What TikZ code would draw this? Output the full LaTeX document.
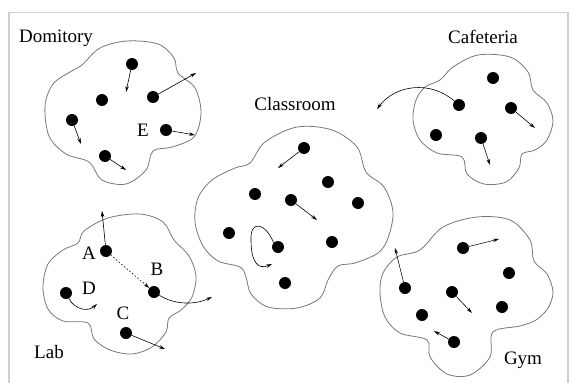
\documentclass[tikz,border=0pt]{standalone}
\usepackage{fontspec}
\setmainfont{Liberation Serif}
\usetikzlibrary{arrows.meta}
\definecolor{FrameGray}{HTML}{CFCFCF}
\definecolor{RoomGray}{HTML}{777777}

\begin{document}
\begin{tikzpicture}[x=1pt,y=-1pt, every node/.style={font=\fontsize{19}{22}\selectfont},
    room/.style={draw=RoomGray, line width=0.8pt},
    dot/.style={circle, fill=black, inner sep=0pt, minimum size=12pt},
    mv/.style={-{Stealth[length=6pt,width=3.5pt]}, line width=0.6pt}]
  \useasboundingbox (0,0) rectangle (574,383);
  \draw[FrameGray, line width=1.5pt] (9,383) -- (9,12.5) -- (568,12.5) -- (568,383);
  % rooms
  \draw[room] plot[smooth cycle, tension=0.55] coordinates {(82,65) (100,48) (127,41) (158,44) (174,58) (178,73)
    (195,88) (201,113) (194,137) (172,147) (153,151) (146,170) (126,184) (102,180) (89,162)
    (66,154) (49,136) (45,106) (53,84) (70,72)};
  \draw[room] plot[smooth cycle, tension=0.55] coordinates {(250,163) (265,142) (297,127) (332,130) (357,147) (366,172)
    (384,187) (393,212) (388,238) (378,253) (355,263) (338,266) (328,280) (320,298) (297,308)
    (268,307) (251,294) (246,277) (240,267) (218,261) (203,246) (195,222) (198,198) (212,180) (235,168)};
  \draw[room] plot[smooth cycle, tension=0.55] coordinates {(453,67) (478,55) (510,57) (528,72) (533,90) (547,103)
    (553,121) (547,140) (535,150) (522,154) (519,168) (506,182) (484,184) (467,174) (462,157)
    (437,153) (420,140) (413,120) (416,100) (425,87) (440,80)};
  \draw[room] plot[smooth cycle, tension=0.55] coordinates {(84,231) (108,218) (140,214) (163,222) (174,240) (189,256)
    (196,276) (192,297) (181,310) (169,318) (166,332) (152,347) (132,354) (110,350) (94,339)
    (88,323) (63,321) (48,309) (43,287) (48,264) (63,250) (78,243)};
  \draw[room] plot[smooth cycle, tension=0.55] coordinates {(420,250) (443,227) (477,217) (510,220) (530,240) (534,261)
    (547,274) (553,292) (548,308) (536,320) (520,326) (493,332) (490,357) (470,375) (447,374)
    (430,357) (427,340) (400,333) (385,317) (380,293) (383,273) (397,257)};
  % room names
  \node (domitory) at (56,38) {Domitory};
  \node (classroom) at (295,104) {Classroom};
  \node (cafeteria) at (483,37) {Cafeteria};
  \node (lab) at (49,352) {Lab};
  \node (gym) at (523,360) {Gym};
  % people
  \foreach \n/\x/\y in {d1/132/64, d2/102/100, d3/153/97, d4/72/120, d5/166/130, d6/105/156,
      c1/304/148, c2/328/182, c3/255/194, c4/291/200, c5/358/203, c6/229/233, c7/332/242, c8/278/247, c9/285/283,
      f1/493/78, f2/459/105, f3/511/108, f4/436/135, f5/481/138,
      la/106/251, lb/154/292, ld/66/293, lc/126/333,
      g1/463/248, g2/509/273, g3/405/288, g4/452/292, g5/502/307, g6/422/315, g7/454/342}
    \node[dot] (\n) at (\x,\y) {};
  \node (e) at (143,130) {E};
  \node (a) at (89,253) {A};
  \node (b) at (157,269) {B};
  \node (d) at (89,288) {D};
  \node (c) at (123,313) {C};
  % moves
  \coordinate (td1) at (126,92);
  \coordinate (td3) at (196,73);
  \coordinate (td4) at (81,144);
  \coordinate (td5) at (195,135);
  \coordinate (td6) at (126,170);
  \coordinate (tc1) at (278,168);
  \coordinate (tc4) at (317,220);
  \coordinate (tc8) at (272,264);
  \coordinate (tf2) at (377,109);
  \coordinate (tf3) at (535,128);
  \coordinate (tf5) at (490,165);
  \coordinate (tla) at (102,211);
  \coordinate (tlb) at (212,297);
  \coordinate (tld) at (97,304);
  \coordinate (tlc) at (165,349);
  \coordinate (tg1) at (499,239);
  \coordinate (tg3) at (395,248);
  \coordinate (tg4) at (472,313);
  \coordinate (tg7) at (434,331);
  \draw[mv] (d1) -- (td1);
  \draw[mv] (d3) -- (td3);
  \draw[mv] (d4) -- (td4);
  \draw[mv] (d5) -- (td5);
  \draw[mv] (d6) -- (td6);
  \draw[mv] (c1) -- (tc1);
  \draw[mv] (c4) -- (tc4);
  \draw[mv] (c8.north west) .. controls (265,222) and (250,220) .. (251,240)
    .. controls (251,262) and (258,270) .. (tc8);
  \draw[mv] (f2) .. controls (430,80) and (395,85) .. (tf2);
  \draw[mv] (f3) -- (tf3);
  \draw[mv] (f5) -- (tf5);
  \draw[mv] (la) -- (tla);
  \draw[mv, dash pattern=on 1.5pt off 2pt] (la) -- (lb);
  \draw[mv] (lb) .. controls (175,305) and (195,305) .. (tlb);
  \draw[mv] (ld) .. controls (75,310) and (88,312) .. (tld);
  \draw[mv] (lc) -- (tlc);
  \draw[mv] (g1) -- (tg1);
  \draw[mv] (g3) -- (tg3);
  \draw[mv] (g4) -- (tg4);
  \draw[mv] (g7) -- (tg7);
\end{tikzpicture}
\end{document}
